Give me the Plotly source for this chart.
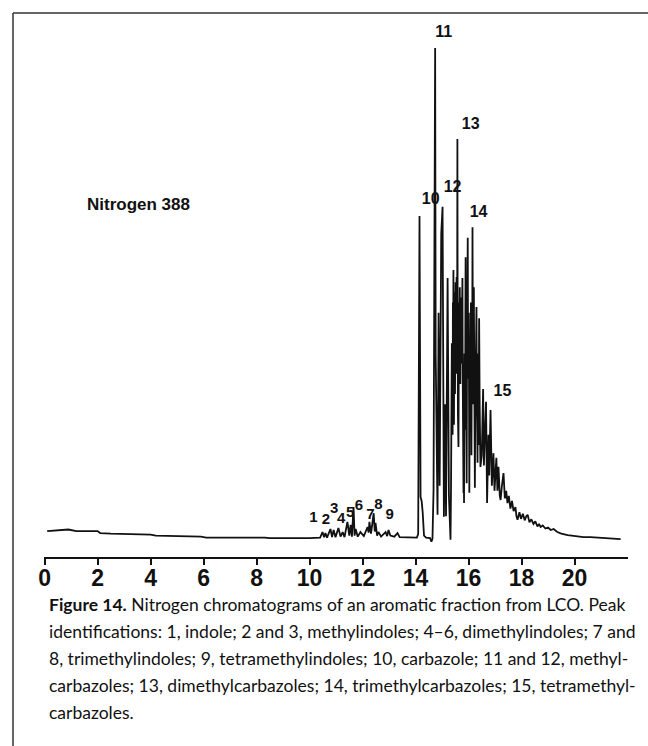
import plotly.graph_objects as go

# ---------------- data (retention time in min, detector signal in arbitrary units) ----------------
base_rt = [0.10, 0.60, 0.90, 1.20, 2.00, 2.10, 2.50, 4.00, 4.20, 5.90, 6.10, 8.30, 8.50, 10.00, 10.40]
base_sig = [5.1, 5.2, 5.4, 5.1, 5.1, 4.7, 4.6, 4.4, 4.2, 4.0, 3.8, 3.8, 3.7, 3.7, 3.8]

indole_rt = [10.49, 10.55, 10.60, 10.66, 10.79, 10.85, 10.91, 10.98, 11.09, 11.17, 11.25, 11.32,
             11.43, 11.50, 11.55, 11.60, 11.66, 11.70, 11.74, 11.82, 11.92, 12.05, 12.19, 12.23,
             12.26, 12.32, 12.42, 12.46, 12.49, 12.55, 12.60, 12.70, 12.87, 12.93, 12.98, 13.05,
             13.20, 13.32, 13.40, 13.80, 14.05]
indole_sig = [4.9, 3.9, 4.7, 3.8, 5.5, 3.9, 5.3, 3.9, 5.7, 4.0, 4.9, 3.9,
              6.9, 4.2, 6.3, 4.0, 9.8, 4.2, 5.5, 4.0, 4.9, 4.1, 5.9, 4.8,
              6.9, 4.6, 8.6, 5.0, 6.7, 4.2, 4.9, 4.0, 4.9, 4.1, 5.3, 4.2,
              4.0, 4.7, 3.9, 3.8, 3.8]

carbazole_rt = [14.10, 14.15, 14.19, 14.23, 14.27, 14.32, 14.40, 14.55, 14.60, 14.64,
                14.68, 14.74, 14.76, 14.79, 14.83, 14.87, 14.91, 14.97, 15.02, 15.07, 15.12, 15.15,
                15.21, 15.26, 15.32]
carbazole_sig = [4.5, 67.0, 11.8, 11.0, 8.8, 4.2, 3.8, 3.7, 3.0, 3.6,
                 13.2, 100.0, 40.0, 20.0, 8.3, 48.0, 14.0, 63.5, 68.8, 7.9, 30.0, 8.0,
                 54.8, 12.0, 3.4]

dense_rt = [15.34, 15.35, 15.36, 15.37, 15.38, 15.39, 15.40, 15.41, 15.42, 15.43, 15.44, 15.45,
            15.46, 15.47, 15.48, 15.49, 15.50, 15.51, 15.52, 15.53, 15.54, 15.55, 15.56, 15.57,
            15.58, 15.59, 15.60, 15.61, 15.62, 15.63, 15.64, 15.65, 15.66, 15.67, 15.68, 15.69,
            15.70, 15.71, 15.72, 15.73, 15.74, 15.75, 15.76, 15.77, 15.78, 15.79, 15.80, 15.81,
            15.82, 15.83, 15.84, 15.85, 15.86, 15.87, 15.88, 15.89, 15.90, 15.91, 15.92, 15.93,
            15.94, 15.95, 15.96, 15.97, 15.98, 15.99, 16.00, 16.01, 16.02, 16.03, 16.04, 16.05,
            16.06, 16.07, 16.08, 16.09, 16.10, 16.11, 16.12, 16.13, 16.14, 16.15, 16.16, 16.17,
            16.18, 16.20, 16.21, 16.22, 16.23, 16.24, 16.25, 16.27, 16.28, 16.30, 16.31, 16.33,
            16.34, 16.35, 16.36, 16.38, 16.39, 16.40, 16.42, 16.43, 16.45]
dense_sig = [14.0, 30.0, 20.0, 42.0, 28.0, 38.0, 24.0, 50.0, 34.0, 56.4, 30.0, 26.0,
             46.0, 52.0, 34.0, 32.0, 48.0, 54.0, 38.0, 36.0, 50.0, 55.0, 42.0, 40.0,
             82.1, 45.0, 28.0, 40.0, 21.6, 44.0, 50.0, 36.0, 48.0, 53.0, 40.0, 34.0,
             47.0, 51.0, 42.0, 38.0, 49.0, 52.0, 40.0, 54.8, 36.0, 30.0, 22.0, 12.6,
             30.0, 10.6, 32.0, 40.0, 30.0, 25.0, 45.0, 58.9, 38.0, 30.0, 22.0, 14.5,
             36.0, 45.0, 40.0, 62.7, 42.0, 35.0, 44.0, 48.0, 30.0, 12.6, 28.0, 40.0,
             34.0, 25.0, 42.0, 50.0, 35.0, 20.0, 36.0, 44.0, 38.0, 64.8, 40.0, 30.0,
             42.0, 53.0, 36.0, 28.0, 20.0, 13.6, 26.0, 38.0, 30.0, 49.1, 34.0, 25.0,
             18.5, 32.0, 40.0, 22.0, 34.0, 46.9, 30.0, 24.0, 17.7]

late_rt = [16.50, 16.55, 16.58, 16.62, 16.66, 16.70, 16.75, 16.78, 16.83, 16.88, 16.94, 16.98]
late_sig = [20.0, 33.0, 18.0, 26.0, 30.5, 10.6, 24.0, 16.0, 28.9, 14.0, 20.4, 13.0]

tail_rt = [17.05, 17.09, 17.13, 17.18, 17.21, 17.26, 17.32, 17.37, 17.42, 17.47, 17.52, 17.58,
           17.64, 17.70, 17.77, 17.81, 17.85, 17.92, 17.98, 18.05, 18.12, 18.18, 18.23, 18.30,
           18.37, 18.45, 18.52, 18.60, 18.66, 18.72, 18.80, 18.90, 19.00, 19.10, 19.21, 19.35,
           19.50, 19.74, 20.00, 20.34, 20.60, 20.98, 21.30, 21.74]
tail_sig = [19.5, 13.0, 17.7, 12.0, 11.2, 14.0, 16.5, 11.5, 13.0, 10.6, 12.0, 9.5,
            11.0, 9.0, 9.8, 8.0, 7.3, 8.8, 7.5, 8.5, 7.2, 8.0, 8.3, 6.8,
            7.4, 6.5, 7.0, 6.0, 6.5, 5.9, 6.2, 5.6, 5.8, 5.3, 5.5, 4.9,
            4.6, 4.3, 4.1, 3.9, 3.9, 3.8, 3.6, 3.5]

peak_labels = ["1", "2", "3", "4", "5", "6", "7", "8", "9"]
peak_label_rt = [10.15, 10.62, 10.93, 11.19, 11.53, 11.86, 12.30, 12.60, 13.02]
peak_label_sig = [7.7, 7.3, 9.3, 7.5, 8.6, 9.9, 8.3, 10.2, 8.3]

big_labels = ["10", "11", "12", "13", "14", "15"]
big_label_rt = [14.57, 15.06, 15.40, 16.08, 16.38, 17.28]
big_label_sig = [70.1, 102.9, 72.5, 84.9, 67.6, 32.4]

x_ticks = [0, 2, 4, 6, 8, 10, 12, 14, 16, 18, 20]

caption_lines = [
    "<b>Figure 14.</b> Nitrogen chromatograms of an aromatic fraction from LCO. Peak",
    "identifications: 1, indole; 2 and 3, methylindoles; 4\u20136, dimethylindoles; 7 and",
    "8, trimethylindoles; 9, tetramethylindoles; 10, carbazole; 11 and 12, methyl-",
    "carbazoles; 13, dimethylcarbazoles; 14, trimethylcarbazoles; 15, tetramethyl-",
    "carbazoles.",
]

rt = base_rt + indole_rt + carbazole_rt + dense_rt + late_rt + tail_rt
sig = base_sig + indole_sig + carbazole_sig + dense_sig + late_sig + tail_sig

# ---------------- figure ----------------
W, H = 648, 746
ML, MR, MT, MB = 44, 20, 13, 189
PW, PH = W - ML - MR, H - MT - MB

def px_x(p):
    return (p - ML) / PW

def px_y(p):
    return (H - MB - p) / PH

SANS = "Liberation Sans, Arial, sans-serif"

fig = go.Figure()
fig.add_trace(go.Scatter(x=rt, y=sig, mode="lines",
                         line=dict(color="#111111", width=1.8), hoverinfo="skip"))
fig.add_trace(go.Scatter(x=peak_label_rt, y=peak_label_sig, mode="text",
                         text=["<b>%s</b>" % s for s in peak_labels],
                         textfont=dict(family=SANS, size=15, color="#111111"),
                         hoverinfo="skip"))
fig.add_trace(go.Scatter(x=big_label_rt, y=big_label_sig, mode="text",
                         text=["<b>%s</b>" % s for s in big_labels],
                         textfont=dict(family=SANS, size=16, color="#111111"),
                         hoverinfo="skip"))

fig.add_annotation(text="<b>Nitrogen 388</b>", x=px_x(138), y=px_y(205), xref="paper", yref="paper",
                   showarrow=False, xanchor="center", yanchor="middle",
                   font=dict(family=SANS, size=17, color="#111111"))

cap_y = [604, 631, 658, 685, 712]
for line, yy in zip(caption_lines, cap_y):
    fig.add_annotation(text=line, x=px_x(47), y=px_y(yy), xref="paper", yref="paper",
                       showarrow=False, xanchor="left", yanchor="middle",
                       font=dict(family="Lato, Liberation Sans, sans-serif", size=17.5, color="#111111"))

# frame (top and left border of the printed figure)
fig.add_shape(type="line", xref="paper", yref="paper", x0=px_x(13), x1=px_x(648), y0=px_y(13), y1=px_y(13),
              line=dict(color="#333333", width=1.5))
fig.add_shape(type="line", xref="paper", yref="paper", x0=px_x(13), x1=px_x(13), y0=px_y(13), y1=px_y(746),
              line=dict(color="#333333", width=1.5))

x0 = -0.02
fig.update_xaxes(range=[x0, x0 + PW / 26.5], tickvals=x_ticks, ticktext=[str(v) for v in x_ticks],
                 showline=True, linecolor="#111111", linewidth=1.5, ticks="outside", ticklen=6,
                 tickwidth=1.5, tickcolor="#111111", showgrid=False, zeroline=False,
                 ticklabelstandoff=-6,
                 tickfont=dict(family=SANS, size=23, color="#111111", weight="bold"))
fig.update_yaxes(range=[0, PH / 5.09], visible=False, showgrid=False, zeroline=False)

fig.update_layout(width=W, height=H, margin=dict(l=ML, r=MR, t=MT, b=MB),
                  paper_bgcolor="white", plot_bgcolor="white", showlegend=False)

fig.write_html("out.html")
